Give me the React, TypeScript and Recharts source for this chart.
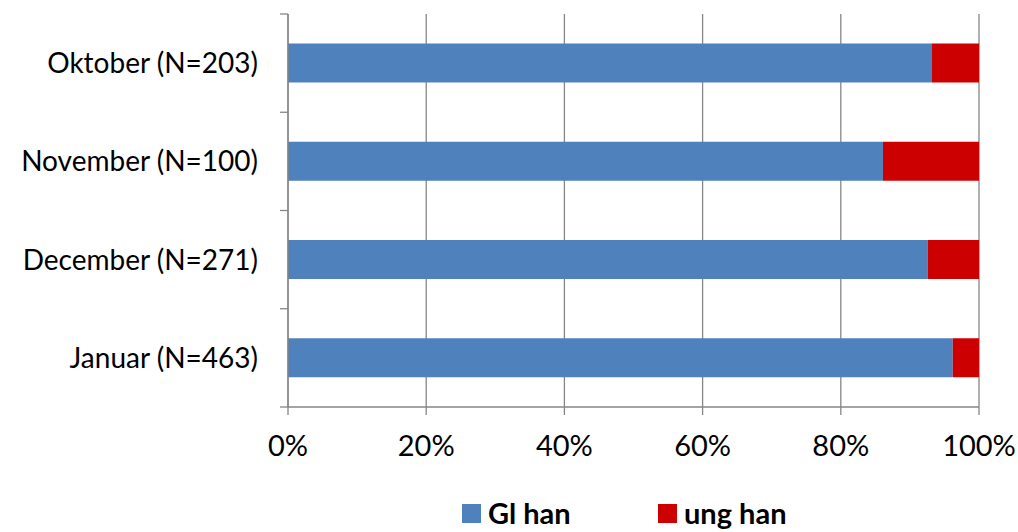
import React from 'react';
import { BarChart, Bar, XAxis, YAxis, CartesianGrid, usePlotArea } from 'recharts';

const months = ['Oktober (N=203)', 'November (N=100)', 'December (N=271)', 'Januar (N=463)'];
const glHan = [0.932, 0.861, 0.926, 0.962];
const ungHan = [0.068, 0.139, 0.074, 0.038];
const xTicks = [0, 0.2, 0.4, 0.6, 0.8, 1];

const data = months.map((m, i) => ({ name: m, gl: glHan[i], ung: ungHan[i] }));

const font = 'Lato, "Open Sans", sans-serif';
const axisColor = '#868686';

// category boundary ticks on the left axis
function BoundaryTicks() {
  const area = usePlotArea();
  if (!area) return null;
  const step = area.height / months.length;
  return (
    <g>
      {Array.from({ length: months.length + 1 }, (_, i) => (
        <line key={i} x1={area.x - 8} x2={area.x} y1={area.y + i * step} y2={area.y + i * step} stroke={axisColor} strokeWidth={1.3} />
      ))}
    </g>
  );
}

export default function App() {
  return (
    <div style={{ position: 'absolute', left: 0, top: 0, width: 1018, height: 532, background: '#fff', fontFamily: font }}>
      <BarChart
        width={1018}
        height={532}
        data={data}
        layout="vertical"
        margin={{ top: 14, right: 39, left: 0, bottom: 85 }}
        barCategoryGap="30%"
      >
        <CartesianGrid horizontal={false} stroke={axisColor} strokeWidth={1.3} />
        <XAxis
          type="number"
          domain={[0, 1]}
          ticks={xTicks}
          height={40}
          tickFormatter={(v: number) => `${Math.round(v * 100)}%`}
          axisLine={{ stroke: axisColor, strokeWidth: 1.3 }}
          tickLine={{ stroke: axisColor, strokeWidth: 1.3 }}
          tickSize={8}
          tick={{ fill: '#000', fontSize: 29, fontFamily: font, dy: 18 }}
        />
        <YAxis
          type="category"
          dataKey="name"
          width={288}
          axisLine={{ stroke: axisColor, strokeWidth: 1.3 }}
          tickLine={false}
          tick={{ fill: '#000', fontSize: 28, fontFamily: font, dx: -22 }}
        />
        <Bar dataKey="gl" stackId="a" fill="#4F81BD" isAnimationActive={false} />
        <Bar dataKey="ung" stackId="a" fill="#CC0000" isAnimationActive={false} />
        <BoundaryTicks />
      </BarChart>
      <div style={{ position: 'absolute', top: 496, left: 462, display: 'flex', alignItems: 'center', fontSize: 29, fontWeight: 'bold', lineHeight: '34px' }}>
        <span style={{ display: 'inline-block', width: 19, height: 19, background: '#4F81BD', marginRight: 7 }} />
        <span style={{ width: 170 }}>Gl han</span>
        <span style={{ display: 'inline-block', width: 19, height: 19, background: '#CC0000', marginRight: 7 }} />
        <span>ung han</span>
      </div>
    </div>
  );
}
